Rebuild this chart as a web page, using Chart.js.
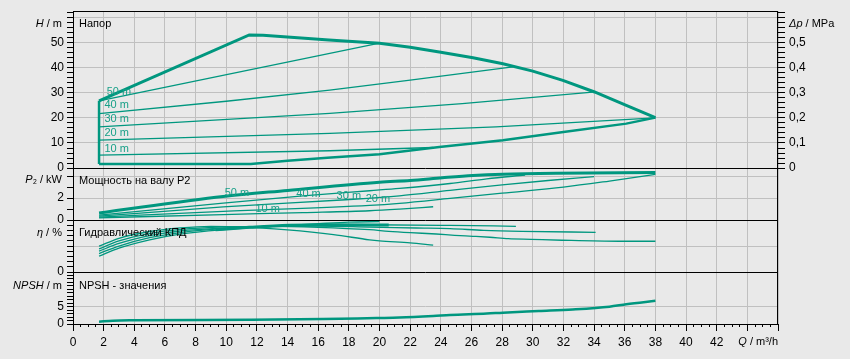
<!DOCTYPE html>
<html>
<head>
<meta charset="utf-8">
<style>
html,body{margin:0;padding:0;background:#e9e9e9;}
#wrap{width:850px;height:359px;position:relative;}
canvas{display:block;}
</style>
<script src="https://cdn.jsdelivr.net/npm/chart.js@4.4.1/dist/chart.umd.min.js"></script>
</head>
<body>
<div id="wrap"><canvas id="c" width="850" height="359"></canvas></div>
<script>
// ---------- tick labels ----------
const qTickLabels = [0,2,4,6,8,10,12,14,16,18,20,22,24,26,28,30,32,34,36,38,40,42];
const hTickLabels = [0,10,20,30,40,50];
const pTickLabels = [0,2];
const etaTickLabels = [0];
const npshTickLabels = [0,5];
const dpTickLabels = ['0','0,1','0,2','0,3','0,4','0,5'];

// ---------- head panel (H / m) ----------
const qHeadMax = [1.7, 11.5, 12.4, 16.7, 20, 22, 23.9, 26.1, 28.05, 30, 31.96, 34.03, 36.1, 38];
const hHeadMax = [26.8, 53, 52.9, 51, 49.7, 48.1, 46.2, 43.9, 41.5, 38.6, 34.9, 30.3, 25, 20.1];
const qHeadMin = [1.7, 11.6, 14, 16.6, 20, 23.9, 28.05, 32, 36.1, 38];
const hHeadMin = [1.6, 1.6, 2.9, 4.1, 5.5, 8.4, 11.1, 14.4, 17.7, 20.1];
const qHeadEdge = [1.7, 1.7];
const hHeadEdge = [1.6, 26.8];
const qHead50 = [1.7, 20];
const hHead50 = [26.8, 49.7];
const qHead40 = [1.7, 10, 16.75, 22, 28.7];
const hHead40 = [21.7, 26.6, 31, 35, 40.3];
const qHead30 = [1.7, 16.75, 25.4, 33.9];
const hHead30 = [16.4, 21.8, 25.7, 30.2];
const qHead20 = [1.7, 16.75, 27.6, 38];
const hHead20 = [11.1, 13.8, 16.4, 20];
const qHead10 = [1.7, 16.75, 23.5];
const hHead10 = [5.2, 6.9, 8.2];
const headLabels = ['50 m','40 m','30 m','20 m','10 m'];
const headLabelQ = [2.2, 2.05, 2.05, 2.05, 2.05];
const headLabelH = [30.4, 25.1, 19.4, 14.1, 7.8];

// ---------- power panel (P2 / kW) ----------
const qPowMax = [1.7, 9.8, 14, 20, 22, 24.1, 26.1, 28.05, 31.5, 38];
const pPowMax = [0.64, 2.15, 2.7, 3.45, 3.6, 3.85, 4.06, 4.18, 4.27, 4.32];
const qPow40 = [1.7, 9.8, 15, 19.35, 21.3, 24.6, 27, 29.5];
const pPow40 = [0.45, 1.55, 2.2, 2.67, 2.88, 3.33, 3.75, 4.1];
const qPow30 = [1.7, 9.8, 17.8, 21.3, 24.6, 28, 31, 34];
const pPow30 = [0.35, 1.2, 1.85, 2.2, 2.7, 3.2, 3.6, 3.95];
const qPow20 = [1.7, 9.8, 19.35, 21.3, 24.6, 28, 32, 35, 38];
const pPow20 = [0.27, 0.8, 1.33, 1.52, 1.97, 2.45, 3.0, 3.55, 4.15];
const qPow10 = [1.7, 9.8, 15, 19.35, 21.3, 23.5];
const pPow10 = [0.2, 0.5, 0.68, 0.85, 1.0, 1.21];
const powLabels = ['50 m','40 m','30 m','20 m','10 m'];
const powLabelQ = [9.9, 14.57, 17.2, 19.1, 11.9];
const powLabelP = [2.45, 2.4, 2.2, 1.9, 0.97];

// ---------- efficiency panel (eta / %) ----------
const qEff50 = [1.7, 3, 5, 7, 10, 13, 16, 18, 20];
const eEff50 = [30.6, 46, 62, 73, 82, 88, 93, 96, 97];
const qEff40 = [1.7, 3, 5, 7, 10, 13, 16, 19.35, 24.6, 28.9];
const eEff40 = [35.6, 50, 66, 76, 84, 88, 90.5, 91, 89.8, 88];
const qEff30 = [1.7, 3, 5, 7, 10, 13, 16, 19.35, 22.4, 24.6, 26.8, 29.3, 34.1];
const eEff30 = [40.2, 55, 70, 79, 85, 88, 88.5, 86.6, 84.7, 83.4, 80.3, 78.4, 76.5];
const qEff20 = [1.7, 3, 5, 7, 10, 13, 16, 19.35, 20.6, 22, 23.7, 24.9, 26.1, 27.2, 28.4, 29.9, 31.9, 35.6, 38];
const eEff20 = [44.6, 60, 74, 82, 87, 88, 86, 81.5, 78.4, 75.8, 73.2, 70.7, 68.8, 66.9, 64.3, 63, 61.2, 59.2, 59.2];
const qEff10 = [1.7, 3, 5, 7, 9, 11, 14, 17, 19.35, 20, 22, 23.5];
const eEff10 = [49.7, 65, 78, 85, 88, 87, 81, 72, 62, 60, 56, 51.6];
const qEffMax = [9.3, 11.5, 14.1, 17, 20.6];
const eEffMax = [81.5, 86, 90, 91, 90.5];

// ---------- NPSH panel ----------
const qNpsh = [1.7, 2.6, 4, 11.5, 16.3, 19.8, 21.3, 23.5, 24.6, 27, 28.05, 30.4, 32.6, 35, 36.1, 38];
const nNpsh = [0.66, 0.95, 1.07, 1.24, 1.44, 1.73, 1.85, 2.3, 2.6, 3.0, 3.27, 3.75, 4.2, 5.0, 5.7, 6.7];

// ---------- styling ----------
const BG = '#e9e9e9';
const LINE = '#00977f';
const TXT = '#18a088';
const GRID = '#c0c0c0';
const FAM = '"Liberation Sans", Arial, sans-serif';

function pts(xs, ys){ return xs.map((x,i)=>({x:x, y:ys[i]})); }
function ds(xs, ys, axis, w, straight){
  const d = {data: pts(xs,ys), xAxisID:'x', yAxisID:axis, borderColor:LINE, backgroundColor:LINE,
          borderWidth:w, pointRadius:0, showLine:true, fill:false,
          borderCapStyle:'butt', borderJoinStyle:'miter'};
  if (straight) { d.tension = 0; } else { d.cubicInterpolationMode = 'monotone'; }
  return d;
}
function near(v, arr){ return arr.some(a => Math.abs(a - v) < 1e-6); }
function range(a, b, s){ const out=[]; for(let i=0;a+i*s<=b+1e-9;i++) out.push(+(a+i*s).toFixed(4)); return out; }

function leftAxis(min, max, step, labels, gridAt, weight, order){
  return {
    type:'linear', position:'left', stack:'L', stackWeight:weight, weight:order,
    min:min, max:max,
    afterBuildTicks: s => { s.ticks = range(min, Math.floor(max/step)*step, step).map(v=>({value:v})); },
    afterFit: s => { s.width = 73; },
    border:{display:false},
    grid:{
      color: c => (c.tick && near(c.tick.value, gridAt)) ? GRID : 'rgba(0,0,0,0)',
      lineWidth:1, drawTicks:true, tickLength:6, tickColor:'#000', tickWidth:1
    },
    ticks:{
      autoSkip:false, maxRotation:0, padding:3, color:'#000',
      font:{family:FAM, size:12},
      callback: v => near(v, labels) ? String(Math.round(v)) : ''
    }
  };
}
function rightDummy(weight, order){
  return {
    type:'linear', position:'right', stack:'R', stackWeight:weight, weight:order,
    min:0, max:1, afterFit: s => { s.width = 72; },
    border:{display:false}, grid:{display:false}, ticks:{display:false}
  };
}

function drawMixed(ctx, parts, x, y, align, size){
  let total = 0;
  const widths = parts.map(p => { ctx.font = (p.i ? 'italic ' : '') + size + 'px ' + FAM; const w = ctx.measureText(p.t).width; total += w; return w; });
  let cx = align === 'right' ? x - total : x;
  ctx.textAlign = 'left'; ctx.textBaseline = 'middle';
  parts.forEach((p, k) => { ctx.font = (p.i ? 'italic ' : '') + size + 'px ' + FAM; ctx.fillText(p.t, cx, y); cx += widths[k]; });
}

const deco = {
  id:'deco',
  beforeDraw(chart){
    const ctx = chart.ctx; ctx.save(); ctx.fillStyle = BG; ctx.fillRect(0,0,chart.width,chart.height); ctx.restore();
  },
  afterDatasetsDraw(chart){
    const ctx = chart.ctx, a = chart.chartArea, s = chart.scales;
    ctx.save();
    ctx.strokeStyle = '#000'; ctx.lineWidth = 1;
    ctx.strokeRect(Math.round(a.left)+0.5, Math.round(a.top)+0.5, Math.round(a.right-a.left)-1, Math.round(a.bottom-a.top));
    [s.yH.bottom, s.yP.bottom, s.yE.bottom].forEach(y => {
      const yy = Math.round(y)+0.5;
      ctx.beginPath(); ctx.moveTo(a.left, yy); ctx.lineTo(a.right, yy); ctx.stroke();
    });
    ctx.restore();
  },
  afterDraw(chart){
    const ctx = chart.ctx, a = chart.chartArea, s = chart.scales;
    ctx.save();
    ctx.fillStyle = '#000';
    const tx = a.left + 6;
    ctx.font = '11px ' + FAM; ctx.textAlign = 'left'; ctx.textBaseline = 'middle';
    ctx.fillText('Напор', tx, s.yH.top + 13);
    ctx.fillText('Мощность на валу P2', tx, s.yP.top + 13);
    ctx.fillText('Гидравлический КПД', tx, s.yE.top + 13);
    ctx.fillText('NPSH - значения', tx, s.yN.top + 14);
    const ax = a.left - 11;
    drawMixed(ctx, [{t:'H',i:true},{t:' / m'}], ax, s.yH.top + 13, 'right', 11);
    drawMixed(ctx, [{t:'P',i:true},{t:'₂ / kW'}], ax, s.yP.top + 12, 'right', 11);
    drawMixed(ctx, [{t:'η',i:true},{t:' / %'}], ax, s.yE.top + 13, 'right', 11);
    drawMixed(ctx, [{t:'NPSH',i:true},{t:' / m'}], ax, s.yN.top + 14, 'right', 11);
    drawMixed(ctx, [{t:'Δp',i:true},{t:' / MPa'}], a.right + 11, s.yH.top + 13, 'left', 11);
    drawMixed(ctx, [{t:'Q',i:true},{t:' / m³/h'}], a.right, 341.5, 'right', 11);
    ctx.fillStyle = TXT; ctx.font = '11px ' + FAM; ctx.textAlign = 'left'; ctx.textBaseline = 'middle';
    headLabels.forEach((t,i) => ctx.fillText(t, s.x.getPixelForValue(headLabelQ[i]), s.yH.getPixelForValue(headLabelH[i])));
    powLabels.forEach((t,i) => ctx.fillText(t, s.x.getPixelForValue(powLabelQ[i]), s.yP.getPixelForValue(powLabelP[i])));
    ctx.restore();
  }
};

const datasets = [
  ds(qHead50, hHead50, 'yH', 1.3, true),
  ds(qHead40, hHead40, 'yH', 1.3, true),
  ds(qHead30, hHead30, 'yH', 1.3, true),
  ds(qHead20, hHead20, 'yH', 1.3, true),
  ds(qHead10, hHead10, 'yH', 1.3, true),
  ds(qHeadMax, hHeadMax, 'yH', 3, true),
  ds(qHeadMin, hHeadMin, 'yH', 2.5, true),
  ds(qHeadEdge, hHeadEdge, 'yH', 2.5, true),
  ds(qPow40, pPow40, 'yP', 1.3),
  ds(qPow30, pPow30, 'yP', 1.3),
  ds(qPow20, pPow20, 'yP', 1.3),
  ds(qPow10, pPow10, 'yP', 1.3),
  ds(qPowMax, pPowMax, 'yP', 3),
  ds(qEff50, eEff50, 'yE', 1.3),
  ds(qEff40, eEff40, 'yE', 1.3),
  ds(qEff30, eEff30, 'yE', 1.3),
  ds(qEff20, eEff20, 'yE', 1.3),
  ds(qEff10, eEff10, 'yE', 1.3),
  ds(qEffMax, eEffMax, 'yE', 3),
  ds(qNpsh, nNpsh, 'yN', 2.5)
];

new Chart(document.getElementById('c'), {
  type:'scatter',
  data:{datasets:datasets},
  plugins:[deco],
  options:{
    responsive:false, animation:false, devicePixelRatio:1,
    layout:{padding:{top:11, left:0, right:0, bottom:0}},
    plugins:{legend:{display:false}, tooltip:{enabled:false}},
    scales:{
      x:{
        type:'linear', position:'bottom', min:0, max:46,
        afterBuildTicks: s => { s.ticks = range(0, 46, 0.5).map(v=>({value:v})); },
        afterFit: s => { s.height = 35; },
        border:{display:false},
        grid:{
          color: c => (c.tick && Number.isInteger(c.tick.value) && c.tick.value % 2 === 0) ? GRID : 'rgba(0,0,0,0)',
          lineWidth:1, drawTicks:true, tickLength:7, tickColor:'#000', tickWidth:1,
          tickBorderDash: c => (c.tick && Number.isInteger(c.tick.value) && c.tick.value % 2 === 0) ? [] : [3, 20]
        },
        ticks:{
          autoSkip:false, maxRotation:0, padding:4, color:'#000',
          font:{family:FAM, size:12},
          callback: v => near(v, qTickLabels) ? String(Math.round(v)) : ''
        }
      },
      yH: leftAxis(0, 62.45, 2, hTickLabels, [10,20,30,40,50,60], 157, 4),
      yP: leftAxis(0, 4.73, 1, pTickLabels, [2,4], 52, 3),
      yE: leftAxis(0, 100, 10, etaTickLabels, [50], 52, 2),
      yN: leftAxis(0, 15, 1, npshTickLabels, [5], 52, 1),
      yDp:{
        type:'linear', position:'right', stack:'R', stackWeight:157, weight:1,
        min:0, max:0.6245,
        afterBuildTicks: s => { s.ticks = range(0, 0.62, 0.02).map(v=>({value:v})); },
        afterFit: s => { s.width = 72; },
        border:{display:false},
        grid:{drawOnChartArea:false, drawTicks:true, tickLength:7, tickColor:'#000', color:'#000'},
        ticks:{
          autoSkip:false, maxRotation:0, padding:4, color:'#000',
          font:{family:FAM, size:12},
          callback: v => { const k = Math.round(v*10); return (Math.abs(v - k/10) < 1e-6 && k < dpTickLabels.length) ? dpTickLabels[k] : ''; }
        }
      },
      yR2: rightDummy(52, 2),
      yR3: rightDummy(52, 3),
      yR4: rightDummy(52, 4)
    }
  }
});
</script>
</body>
</html>
